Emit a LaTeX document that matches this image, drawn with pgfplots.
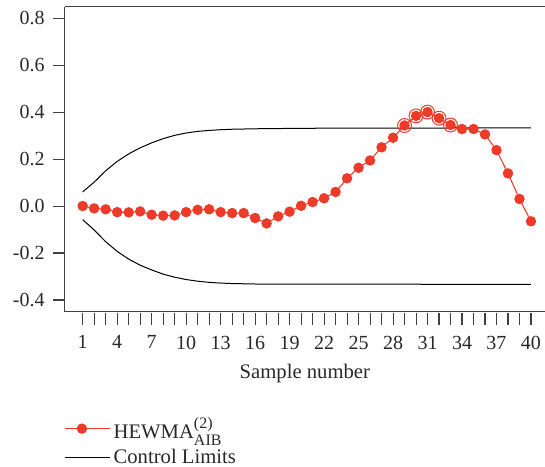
\documentclass[border=0pt]{standalone}
\usepackage{fontspec}
\setmainfont{Liberation Serif}
\usepackage{amsmath}
\usepackage{pgfplots}
\pgfplotsset{compat=1.18}
\definecolor{hred}{RGB}{238,58,40}
\definecolor{axgray}{RGB}{64,64,64}
\definecolor{txtgray}{RGB}{40,40,40}

\pgfplotstableread{
i    h
1    0.000
2   -0.010
3   -0.014
4   -0.026
5   -0.027
6   -0.023
7   -0.037
8   -0.041
9   -0.040
10  -0.026
11  -0.016
12  -0.014
13  -0.026
14  -0.030
15  -0.030
16  -0.051
17  -0.074
18  -0.044
19  -0.024
20   0.001
21   0.017
22   0.033
23   0.060
24   0.118
25   0.163
26   0.194
27   0.250
28   0.291
29   0.343
30   0.384
31   0.400
32   0.374
33   0.345
34   0.328
35   0.328
36   0.305
37   0.238
38   0.139
39   0.030
40  -0.065
}\hewma

\pgfplotstableread{
i    ucl    lcl
1    0.060 -0.058
2    0.102 -0.102
3    0.150 -0.152
4    0.190 -0.193
5    0.222 -0.226
6    0.248 -0.252
7    0.269 -0.272
8    0.287 -0.290
9    0.301 -0.303
10   0.311 -0.313
11   0.318 -0.320
12   0.322 -0.325
13   0.325 -0.328
14   0.327 -0.330
15   0.328 -0.331
16   0.329 -0.332
18   0.330 -0.332
20   0.331 -0.333
25   0.332 -0.333
30   0.332 -0.333
40   0.333 -0.334
}\limits

\begin{document}
\begin{tikzpicture}
\begin{axis}[
  scale only axis,
  width=360.2pt, height=228.75pt,
  xmin=-0.567, xmax=41.22,
  ymin=-0.450, ymax=0.849,
  axis x line=box, axis y line=left,
  axis line style={-, axgray, line width=0.8pt},
  xtick pos=bottom, ytick pos=left,
  tick align=outside,
  major tick length=8.5pt,
  tick style={axgray, line width=0.8pt},
  xtick style={yshift=-1.1pt},
  xtick={1,...,40},
  xticklabels={1,,,4,,,7,,,10,,,13,,,16,,,19,,,22,,,25,,,28,,,31,,,34,,,37,,,40},
  ytick={-0.4,-0.2,0,0.2,0.4,0.6,0.8},
  yticklabel style={xshift=-3pt, /pgf/number format/.cd, fixed, fixed zerofill, precision=1},
  xticklabel style={yshift=-6pt},
  /pgf/number format/assume math mode=true,
  ticklabel style={font=\fontsize{15}{17}\selectfont, text=txtgray},
  xlabel={Sample number},
  xlabel style={yshift=-4pt, font=\fontsize{15.5}{18}\selectfont, text=txtgray},
  legend style={draw=none, fill=none, at={(axis description cs:-0.0096,-0.327)},
    anchor=north west, font=\fontsize{15.5}{18}\selectfont, text=txtgray,
    row sep=2.5pt, cells={anchor=west}},
  legend image code/.code={\draw[mark repeat=2,mark phase=2,#1]
    plot coordinates {(0cm,0cm) (0.45cm,0cm) (0.9cm,0cm)};
    \path (0cm,0cm) -- (1.2cm,0cm);},
]
\coordinate (sw) at (rel axis cs:0,0);
\coordinate (ne) at (rel axis cs:1,1);
\addplot[hred, line width=0.8pt, mark=*, mark size=3.5pt,
  mark options={fill=hred, draw=hred}] table[x=i, y=h] {\hewma};
\addlegendentry{HEWMA$^{\text{\fontsize{12}{14}\selectfont(2)}}_{\text{\fontsize{12}{14}\selectfont AIB}}$}
\addplot[black, line width=0.75pt] table[x=i, y=ucl] {\limits};
\addlegendentry{Control Limits}
\addplot[black, line width=0.75pt, forget plot] table[x=i, y=lcl] {\limits};
\addplot[only marks, mark=o, mark size=5.2pt, hred, line width=0.75pt, forget plot]
  coordinates {(29,0.343) (30,0.384) (31,0.400) (32,0.374) (33,0.345)};
\end{axis}
\pgfresetboundingbox
\path ([shift={(-48.5pt,-115.7pt)}]sw) rectangle ([shift={(0pt,5pt)}]ne);
\end{tikzpicture}
\end{document}
